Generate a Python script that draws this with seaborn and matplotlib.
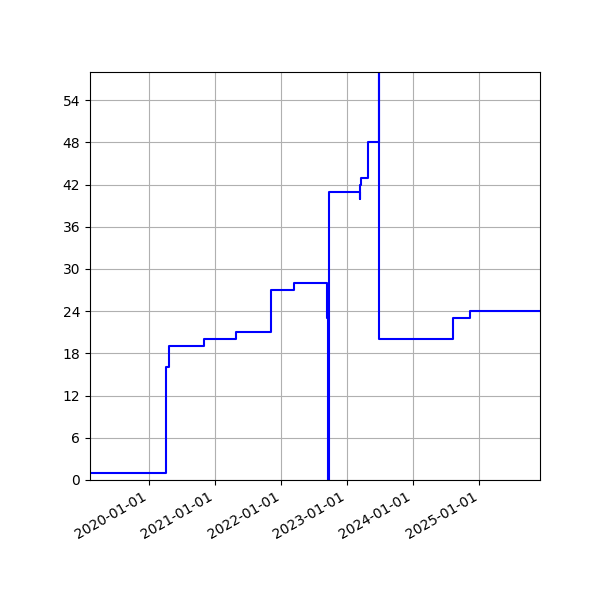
import matplotlib
matplotlib.use("Agg")
import matplotlib.pyplot as plt
import matplotlib.dates as mdates
from matplotlib.ticker import MultipleLocator
import pandas as pd
import seaborn as sns

# step changes
dates = [
    "2019-02-07", "2020-04-02", "2020-04-17", "2020-10-29", "2021-04-25",
    "2021-11-06", "2022-03-12", "2022-09-12", "2022-09-17", "2022-09-23",
    "2023-03-12", "2023-03-14", "2023-03-17", "2023-04-27", "2023-06-25",
    "2023-06-26", "2024-08-09", "2024-11-13", "2025-12-03",
]
values = [1, 16, 19, 20, 21, 27, 28, 23, 0, 41, 40, 42, 43, 48, 58, 20, 23, 24, 24]

df = pd.DataFrame({"date": pd.to_datetime(dates), "value": values})

fig, ax = plt.subplots(figsize=(6, 6), dpi=100)
sns.lineplot(data=df, x="date", y="value", ax=ax, color="blue",
             drawstyle="steps-post", linewidth=1.5)

ax.set_xlim(df["date"].min(), df["date"].max())
ax.set_ylim(0, max(values))
ax.yaxis.set_major_locator(MultipleLocator(6))
ax.xaxis.set_major_locator(mdates.YearLocator())
ax.xaxis.set_major_formatter(mdates.DateFormatter("%Y-%m-%d"))
ax.grid(True)
ax.set(xlabel="", ylabel="")
fig.autofmt_xdate()
fig.subplots_adjust(left=0.15, right=0.9, top=0.88, bottom=0.2)

fig.savefig("out.png")
